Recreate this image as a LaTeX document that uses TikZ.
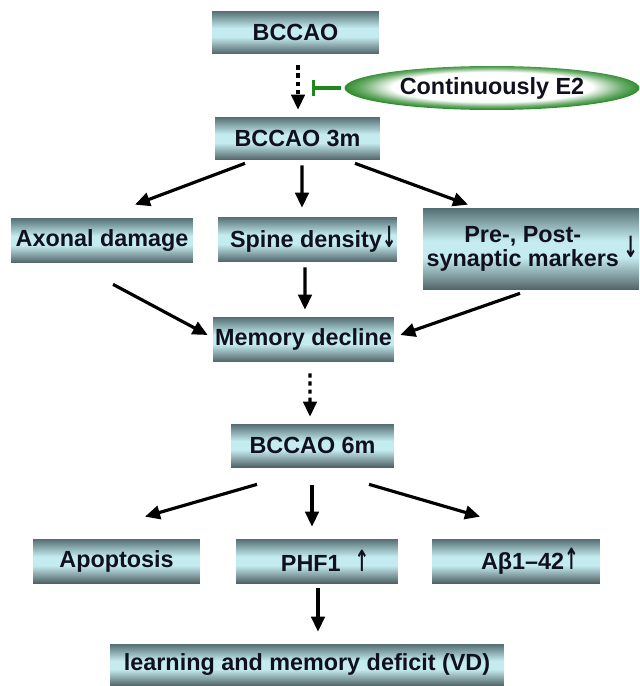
\documentclass[tikz,border=0pt]{standalone}
\usepackage{fontspec}
\setmainfont{Liberation Sans}
\newfontfamily\arfont{DejaVu Sans}
\usetikzlibrary{positioning,arrows.meta,calc,shapes.geometric}
\definecolor{bxtop}{RGB}{84,110,114}
\definecolor{bxmid}{RGB}{196,236,240}
\definecolor{bxbot}{RGB}{80,98,101}
\definecolor{egreen}{RGB}{48,140,48}
\definecolor{tgreen}{RGB}{30,135,30}
\definecolor{txt}{RGB}{16,16,30}
\pgfdeclareverticalshading{boxshade}{100bp}{color(0bp)=(bxbot); color(25bp)=(bxbot); color(45bp)=(bxmid); color(55bp)=(bxmid); color(75bp)=(bxtop); color(100bp)=(bxtop)}
\pgfdeclareradialshading{eglow}{\pgfpoint{0bp}{2bp}}{color(0bp)=(white); color(17bp)=(white); color(22bp)=(egreen!70); color(25bp)=(egreen); color(50bp)=(egreen)}
\newcommand{\upar}{{\arfont\bfseries\scalebox{0.75}[1.25]{↑}}}
\newcommand{\dnar}{{\arfont\bfseries\scalebox{0.75}[1.25]{↓}}}

\begin{document}
\begin{tikzpicture}[x=0.02cm, y=-0.02cm,
  lb/.style={text=txt, font=\fontsize{13.3}{14}\selectfont\bfseries},
  box/.style={lb, shade, shading=boxshade, inner sep=0pt, minimum height=0.86cm},
  ell/.style={lb, ellipse, shade, shading=eglow, inner sep=0pt},
  ar/.style={line width=1.8pt, -{Triangle[length=0.3cm,width=0.27cm]}},
  dt/.style={ar, dash pattern=on 2.4pt off 2.2pt},
  blk/.style={line width=1.8pt, draw=tgreen, -{Bar[width=0.34cm]}},
]
\useasboundingbox (0,0) rectangle (639,686);
% onset
\node[box, minimum width=3.34cm] (bccao) at (295.5,32.5) {BCCAO};
\node[ell, minimum width=5.9cm, minimum height=0.88cm] (e2) at (492,88) {Continuously E2};
\node[box, minimum width=3.3cm] (b3m) at (297.5,138.5) {BCCAO 3m};
\draw[dt] ($(bccao.south)+(2.5,11)$) -- ($(b3m.north)+(0.5,-7)$);
\draw[blk] ($(e2.west)+(-3,0)$) -- ($(e2.west)+(-32,0)$);
% 3 months
\node[box, minimum width=3.64cm, minimum height=0.9cm] (axonal) at (102,240.5) {Axonal damage};
\node[box, minimum width=3.58cm, minimum height=0.9cm] (spine) at (307.5,239.5) {\hspace*{0.5em}Spine density\dnar};
\node[box, minimum width=4.32cm, minimum height=1.64cm, align=center] (pre) at (531,249) {Pre-, Post-\hspace*{0.7em}\\synaptic markers\hspace*{0.7em}};
\node[lb, anchor=east, inner sep=0pt] (prear) at ($(pre.east)+(-1,-2)$) {\dnar};
\node[box, minimum width=3.62cm, minimum height=0.9cm] (memory) at (303.5,339.5) {Memory decline};
\draw[ar] ($(b3m.south)+(-52.5,3)$) -- ($(axonal.north)+(33,-13)$);
\draw[ar] ($(b3m.south)+(4.5,5)$) -- ($(spine.north)+(-5.5,-9)$);
\draw[ar] ($(b3m.south)+(57.5,3)$) -- ($(pre.north)+(-63,-3)$);
\draw[ar] ($(axonal.south)+(11,21)$) -- ($(memory.west)+(-5,-4.5)$);
\draw[ar] ($(spine.south)+(-2.5,5)$) -- ($(memory.north)+(1.5,-7)$);
\draw[ar] ($(pre.south)+(-11,3)$) -- ($(memory.east)+(6,-4.5)$);
% 6 months
\node[box, minimum width=3.26cm] (b6m) at (312.5,445.5) {BCCAO 6m};
\draw[dt] ($(memory.south)+(6.5,11)$) -- ($(b6m.north)+(-2.5,-7)$);
\node[box, minimum width=3.34cm, minimum height=0.88cm] (apop) at (116.5,561) {Apoptosis};
\node[box, minimum width=3.24cm, minimum height=0.88cm] (phf) at (317,561) {\hspace*{0.7em}PHF1\hspace{0.6em}\upar};
\node[box, minimum width=3.36cm, minimum height=0.88cm] (abeta) at (516,561) {\hspace*{1.2em}Aβ1–42\upar};
\node[box, minimum width=7.88cm, minimum height=0.84cm] (learn) at (307,665) {learning and memory deficit (VD)};
\draw[ar] ($(b6m.south)+(-55.5,17)$) -- ($(apop.north)+(28.5,-22)$);
\draw[ar] ($(b6m.south)+(-0.5,18)$) -- ($(phf.north)+(-5,-12)$);
\draw[ar] ($(b6m.south)+(56.5,17)$) -- ($(abeta.north)+(-36,-22)$);
\draw[ar] ($(phf.south)+(1,5)$) -- ($(learn.north)+(11,-12)$);
\end{tikzpicture}
\end{document}
